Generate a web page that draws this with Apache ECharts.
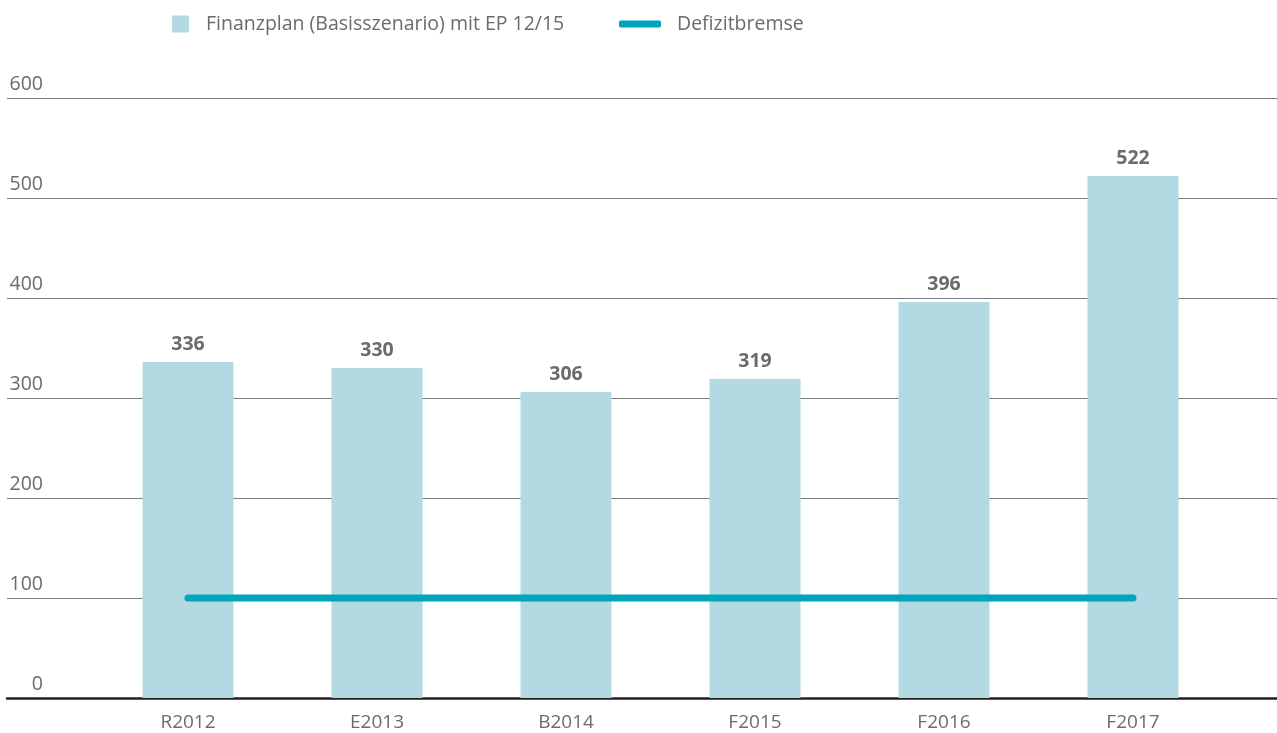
<!DOCTYPE html>
<html><head><meta charset="utf-8">
<script src="https://cdn.jsdelivr.net/npm/echarts@6/dist/echarts.min.js"></script>
<style>html,body{margin:0;padding:0;background:#fff}#c{width:1277px;height:733px}</style>
</head><body><div id="c"></div>
<script>
const categories = ['R2012','E2013','B2014','F2015','F2016','F2017'];
const finanzplan = [336,330,306,319,396,522];
const defizitbremse = [100,100,100,100,100,100];
const seriesNames = ['Finanzplan (Basisszenario) mit EP 12/15','Defizitbremse'];

const FONT = 'Open Sans';
const chart = echarts.init(document.getElementById('c'));
chart.setOption({
  animation:false,
  legend:[
    {left:167, top:9, itemWidth:17, itemHeight:17, icon:'rect', data:[seriesNames[0]],
     textStyle:{color:'#6b6b6b', fontSize:19.5, fontFamily:FONT, padding:[0,0,0,12]}},
    {left:614, top:9, itemWidth:42, itemHeight:7, icon:'roundRect', data:[seriesNames[1]],
     textStyle:{color:'#6b6b6b', fontSize:19.5, fontFamily:FONT, padding:[0,0,0,11]}}
  ],
  grid:[
    {left:7, right:0, top:98, bottom:35},
    {left:93.5, right:49.5, top:98, bottom:35}
  ],
  xAxis:[
    {gridIndex:0, type:'value', min:0, max:1, axisLabel:{show:false}, axisTick:{show:false}, splitLine:{show:false},
     axisLine:{show:true, lineStyle:{color:'#222', width:2.5}}},
    {gridIndex:1, type:'category', data:categories, axisLine:{show:false}, axisTick:{show:false},
     axisLabel:{color:'#6b6b6b', fontSize:19, fontFamily:FONT, margin:15}}
  ],
  yAxis:[
    {gridIndex:0, type:'value', min:0, max:600, interval:100, axisLine:{show:false}, axisTick:{show:false},
     splitLine:{lineStyle:{color:'#7a7a7a', width:1.2}},
     axisLabel:{inside:true, align:'right', margin:36, verticalAlign:'bottom', padding:[0,0,4,0],
       color:'#6b6b6b', fontSize:19.5, fontFamily:FONT}},
    {gridIndex:1, type:'value', min:0, max:600, interval:100, show:false}
  ],
  series:[
    {name:seriesNames[0], type:'bar', xAxisIndex:1, yAxisIndex:1, data:finanzplan, barWidth:91,
     itemStyle:{color:'#b3dae2'}, z:3,
     label:{show:true, position:'top', distance:8, color:'#6b6b6b', fontSize:19.5, fontWeight:'bold', fontFamily:FONT}},
    {name:seriesNames[1], type:'line', xAxisIndex:1, yAxisIndex:1, data:defizitbremse, showSymbol:false, symbol:'none',
     lineStyle:{color:'#00a5bb', width:7, cap:'round'}, itemStyle:{color:'#00a5bb'}, z:5}
  ]
});
</script></body></html>
